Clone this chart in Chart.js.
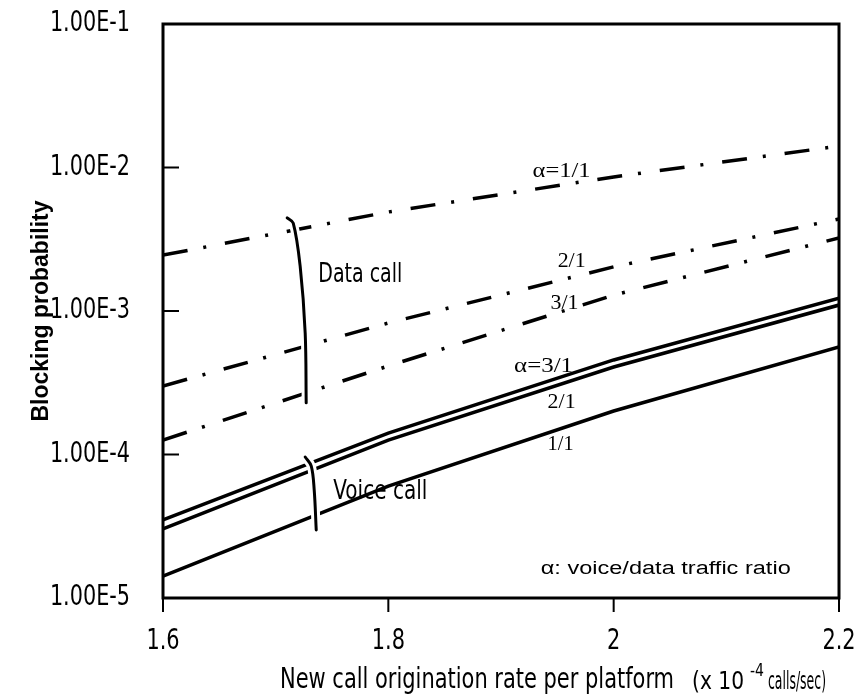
<!DOCTYPE html>
<html>
<head>
<meta charset="utf-8">
<script src="https://cdn.jsdelivr.net/npm/chart.js@4.4.1/dist/chart.umd.min.js"></script>
<style>
  html, body { margin: 0; padding: 0; background: #fff; }
  #wrap { width: 864px; height: 700px; }
</style>
</head>
<body>
<div id="wrap"><canvas id="chart" width="864" height="700"></canvas></div>
<script>
// x: new call origination rate (x 10^-4 calls/sec)
const xVals = [1.6, 1.8, 2.0, 2.2];
const xTicks = [1.6, 1.8, 2.0, 2.2];
const yTicks = [1e-5, 1e-4, 1e-3, 1e-2, 1e-1];

// data call blocking, alpha = voice/data ratio
const dataA1 = [2.45e-3, 4.9e-3, 8.6e-3, 1.41e-2];
const dataA2 = [3.0e-4, 8.25e-4, 2.03e-3, 4.38e-3];
const dataA3 = [1.26e-4, 4.14e-4, 1.29e-3, 3.23e-3];

// voice call blocking
const voiceA3 = [3.5e-5, 1.41e-4, 4.56e-4, 1.23e-3];
const voiceA2 = [3.03e-5, 1.26e-4, 4.07e-4, 1.10e-3];
const voiceA1 = [1.42e-5, 6.03e-5, 2.01e-4, 5.61e-4];

// group brackets
const bracketDataX = [1.7102, 1.7156, 1.7218, 1.7262, 1.7271];
const bracketDataY = [4.45e-3, 4.10e-3, 2.03e-3, 7.03e-4, 2.29e-4];
const bracketVoiceX = [1.7262, 1.7316, 1.7342, 1.7360];
const bracketVoiceY = [9.61e-5, 8.31e-5, 5.66e-5, 2.98e-5];

const NARROW = '"Liberation Sans Narrow", "DejaVu Sans Condensed", sans-serif';
const SERIF = '"Liberation Serif", "DejaVu Serif", serif';

// text notes placed in data coordinates
const notes = [
  { text: 'α=1/1', x: 1.9538, y: 9.45e-3, w: 58, font: '22px ' + SERIF },
  { text: '2/1', x: 1.9627, y: 2.23e-3, w: 28, font: '22px ' + SERIF },
  { text: '3/1', x: 1.9564, y: 1.14e-3, w: 28, font: '22px ' + SERIF },
  { text: 'α=3/1', x: 1.9378, y: 4.14e-4, w: 59, font: '22px ' + SERIF },
  { text: '2/1', x: 1.9538, y: 2.32e-4, w: 28, font: '22px ' + SERIF },
  { text: '1/1', x: 1.9529, y: 1.18e-4, w: 26, font: '22px ' + SERIF },
  { text: 'Data call', x: 1.7751, y: 1.78e-3, w: 84, font: '27px ' + NARROW },
  { text: 'Voice call', x: 1.7929, y: 5.48e-5, w: 94, font: '27px ' + NARROW },
  { text: 'α: voice/data traffic ratio', x: 2.0462, y: 1.59e-5, w: 250, font: '18px "Liberation Sans", Arial, sans-serif' }
];

const pts = (xs, ys) => xs.map((x, i) => ({ x: x, y: ys[i] }));
const yLabel = v => Number(v).toExponential(2).toUpperCase();
const xLabel = v => String(+Number(v).toFixed(1));

function drawFit(ctx, text, cx, cy, w, font) {
  ctx.font = font;
  const m = ctx.measureText(text).width;
  ctx.save();
  ctx.translate(cx, cy);
  ctx.scale(w / m, 1);
  ctx.textAlign = 'center';
  ctx.textBaseline = 'middle';
  ctx.fillText(text, 0, 0);
  ctx.restore();
}

function drawSquashed(ctx, text, x, y, sx, font, align) {
  ctx.save();
  ctx.font = font;
  ctx.translate(x, y);
  ctx.scale(sx, 1);
  ctx.textAlign = align;
  ctx.textBaseline = 'middle';
  ctx.fillText(text, 0, 0);
  ctx.restore();
}

const dashDot = [25, 16, 3, 19];

const series = (data, dash) => ({
  data: data,
  borderColor: '#000',
  borderWidth: 3.5,
  borderDash: dash,
  pointRadius: 0,
  tension: 0,
  fill: false,
  order: 3
});

const bracket = (xs, ys, color, width, order) => ({
  data: pts(xs, ys),
  borderColor: color,
  borderWidth: width,
  pointRadius: 0,
  tension: 0.35,
  borderCapStyle: 'round',
  fill: false,
  order: order
});

const framePlugin = {
  id: 'frame',
  afterDraw(chart) {
    const ctx = chart.ctx;
    const a = chart.chartArea;
    const xs = chart.scales.x;
    const ys = chart.scales.y;
    ctx.save();
    ctx.strokeStyle = '#000';
    ctx.fillStyle = '#000';
    ctx.lineWidth = 3;
    ctx.strokeRect(a.left, a.top, a.right - a.left, a.bottom - a.top);

    // y ticks point inward, x ticks point down
    ctx.lineWidth = 2;
    ctx.beginPath();
    yTicks.forEach(v => {
      const y = ys.getPixelForValue(v);
      ctx.moveTo(a.left, y);
      ctx.lineTo(a.left + 16, y);
    });
    xTicks.forEach(v => {
      const x = xs.getPixelForValue(v);
      ctx.moveTo(x, a.bottom);
      ctx.lineTo(x, a.bottom + 14);
    });
    ctx.stroke();

    // narrow tick labels
    yTicks.forEach(v => {
      drawSquashed(ctx, yLabel(v), a.left - 33, ys.getPixelForValue(v), 0.825, '28px ' + NARROW, 'right');
    });
    xTicks.forEach(v => {
      drawSquashed(ctx, xLabel(v), xs.getPixelForValue(v), a.bottom + 43, 0.8, '29px ' + NARROW, 'center');
    });

    notes.forEach(n => {
      drawFit(ctx, n.text, xs.getPixelForValue(n.x), ys.getPixelForValue(n.y), n.w, n.font);
    });

    // x axis title with superscript
    const ty = a.bottom + 83;
    drawFit(ctx, 'New call origination rate per platform', 477, ty, 394, '28px ' + NARROW);
    drawFit(ctx, '(x 10', 718, ty + 1, 52, '25px ' + NARROW);
    drawFit(ctx, '-4', 757, ty - 10, 14, '18px ' + NARROW);
    drawFit(ctx, 'calls/sec)', 797, ty + 1, 58, '25px ' + NARROW);
    ctx.restore();
  }
};

const chart = new Chart(document.getElementById('chart'), {
  type: 'line',
  data: {
    datasets: [
      bracket(bracketDataX, bracketDataY, '#000', 3, 1),
      bracket(bracketVoiceX, bracketVoiceY, '#000', 3, 1),
      bracket(bracketDataX, bracketDataY, '#fff', 9, 2),
      bracket(bracketVoiceX, bracketVoiceY, '#fff', 9, 2),
      series(pts(xVals, dataA1), dashDot),
      series(pts(xVals, dataA2), dashDot),
      series(pts(xVals, dataA3), dashDot),
      series(pts(xVals, voiceA3), []),
      series(pts(xVals, voiceA2), []),
      series(pts(xVals, voiceA1), [])
    ]
  },
  options: {
    responsive: false,
    animation: false,
    layout: { padding: { top: 24, right: 25, left: 0, bottom: 0 } },
    plugins: {
      legend: { display: false },
      tooltip: { enabled: false }
    },
    scales: {
      x: {
        type: 'linear',
        min: 1.6,
        max: 2.2,
        grid: { display: false, drawTicks: false },
        border: { display: false },
        afterBuildTicks: s => { s.ticks = xTicks.map(v => ({ value: v })); },
        afterFit: s => { s.height = 102; },
        ticks: { display: false }
      },
      y: {
        type: 'logarithmic',
        min: 1e-5,
        max: 1e-1,
        grid: { display: false, drawTicks: false },
        border: { display: false },
        afterBuildTicks: s => { s.ticks = yTicks.map(v => ({ value: v })); },
        afterFit: s => { s.width = 163; },
        ticks: { display: false },
        title: {
          display: true,
          text: 'Blocking probability',
          color: '#000',
          padding: { top: 28, bottom: 0 },
          font: { family: '"Liberation Sans", Arial, sans-serif', weight: 'bold', size: 23 }
        }
      }
    }
  },
  plugins: [framePlugin]
});

// pin the plot box to the reference frame
for (let i = 0; i < 2; i++) {
  const ca = chart.chartArea;
  const p = chart.options.layout.padding;
  p.top += 24 - ca.top;
  p.right += ca.right - 839;
  p.left += 163 - ca.left;
  p.bottom += ca.bottom - 598;
  chart.update();
}
</script>
</body>
</html>
